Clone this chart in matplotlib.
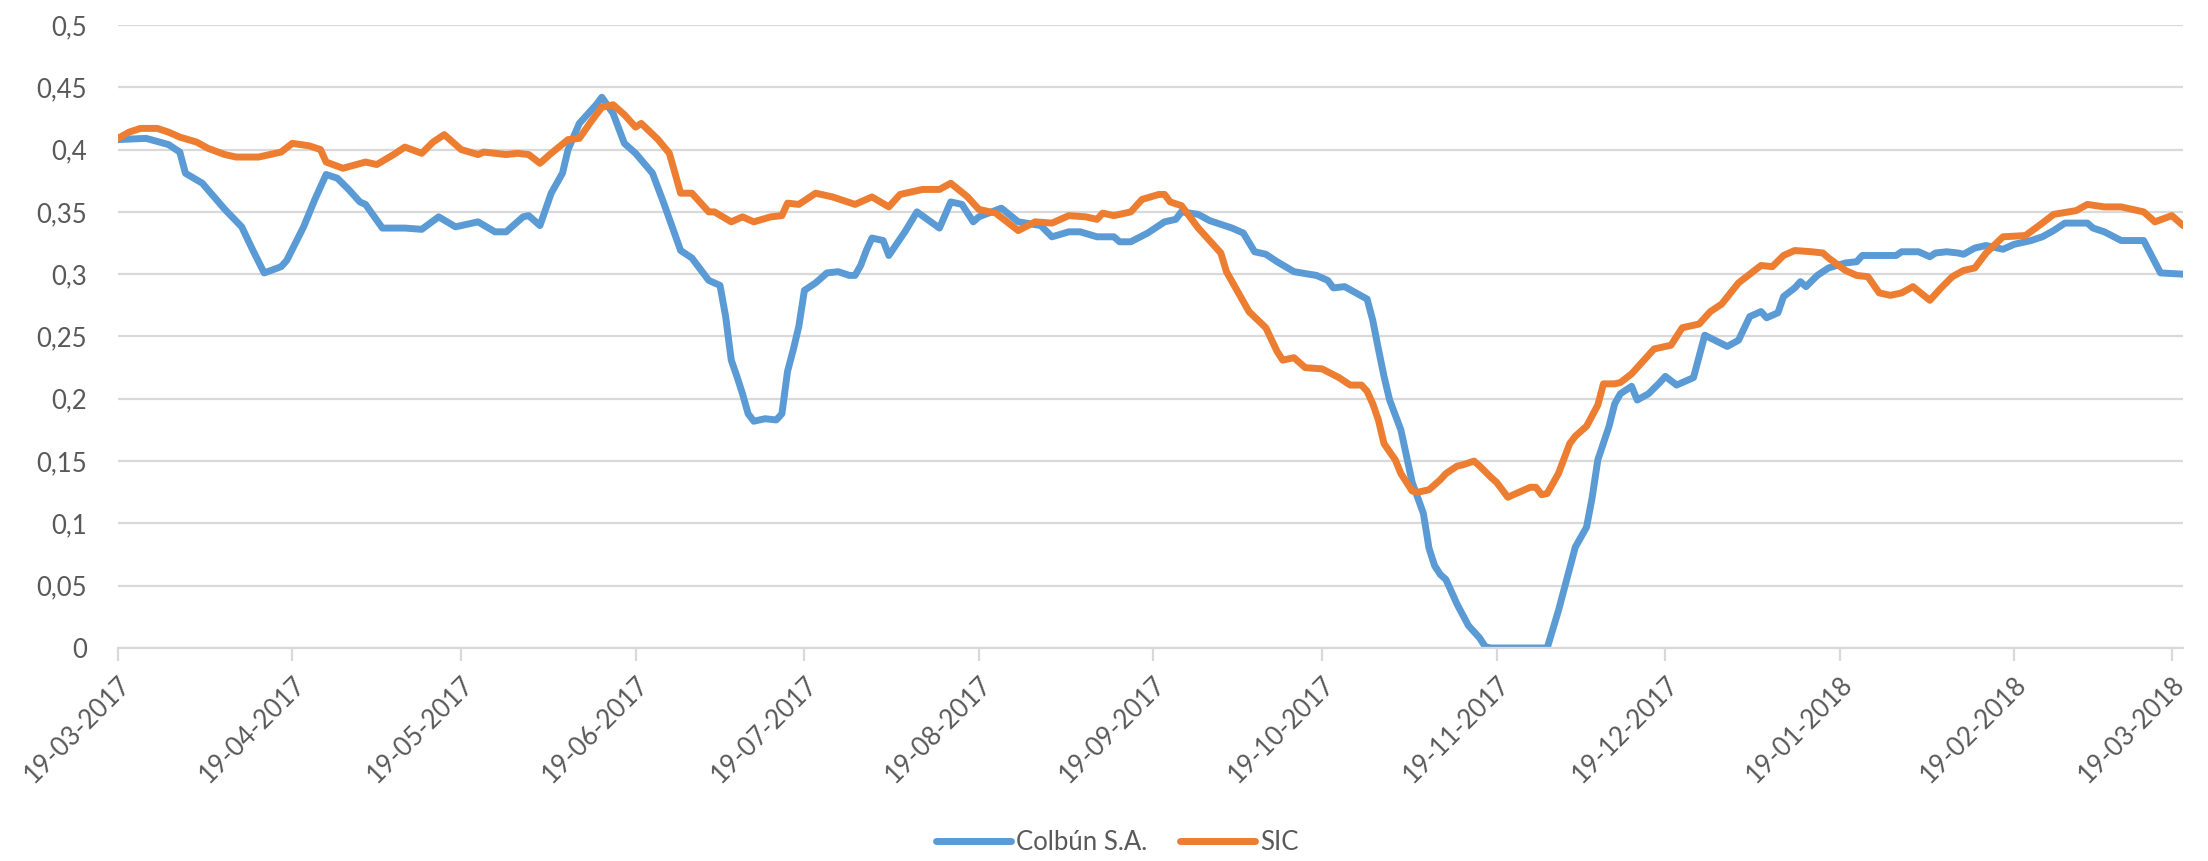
import datetime as dt
import matplotlib
matplotlib.use("Agg")
import matplotlib.pyplot as plt
import matplotlib.dates as mdates

# days counted from 19-03-2017
start = dt.date(2017, 3, 19)

colbun_day = [0, 5, 9, 11, 12, 15, 19, 22, 24, 26, 29, 30, 33, 35, 37, 39, 41, 43, 44, 47,
              51, 54, 57, 60, 64, 67, 69, 72, 73, 75, 77, 79, 80, 82, 85, 86, 88, 90, 92, 95,
              97, 100, 102, 105, 107, 108, 109, 110, 111, 112, 113, 115, 117, 118, 119, 120, 121, 122, 124, 126,
              128, 130, 131, 132, 133, 134, 136, 137, 140, 142, 146, 148, 150, 152, 153, 157, 160, 164, 166, 169,
              171, 174, 177, 178, 180, 183, 186, 188, 189, 192, 194, 198, 200, 202, 204, 206, 209, 213, 215, 216,
              218, 220, 222, 223, 224, 225, 226, 228, 230, 232, 233, 234, 235, 236, 238, 240, 242, 243, 244, 248,
              252, 254, 256, 259, 261, 262, 263, 265, 266, 267, 269, 270, 272, 274, 275, 277, 280, 282, 286, 288,
              290, 292, 293, 295, 296, 298, 299, 300, 302, 304, 307, 309, 310, 316, 317, 320, 322, 323, 325, 327,
              328, 330, 332, 335, 337, 340, 342, 344, 346, 350, 351, 353, 356, 360, 363, 367]
colbun_val = [.408, .409, .404, .398, .381, .373, .352, .338, .319, .301, .306, .311, .338, .360, .380, .377, .368, .358, .356, .337,
              .337, .336, .346, .338, .342, .334, .334, .346, .347, .339, .365, .381, .400, .421, .436, .442, .429, .405, .397, .381,
              .357, .319, .313, .295, .291, .266, .231, .218, .204, .188, .182, .184, .183, .188, .222, .239, .258, .287, .293, .301,
              .302, .299, .299, .307, .319, .329, .327, .315, .335, .350, .337, .358, .356, .342, .346, .353, .342, .339, .330, .334,
              .334, .330, .330, .326, .326, .333, .342, .344, .350, .348, .343, .337, .333, .318, .316, .310, .302, .299, .295, .289,
              .290, .285, .280, .263, .240, .218, .199, .175, .133, .108, .080, .066, .059, .055, .035, .018, .008, .001, 0, 0,
              0, 0, .030, .081, .097, .121, .151, .178, .196, .204, .210, .199, .204, .213, .218, .211, .217, .251, .242, .247,
              .266, .270, .265, .269, .282, .289, .294, .290, .299, .305, .309, .310, .315, .315, .318, .318, .314, .317, .318, .317,
              .316, .321, .323, .320, .324, .327, .330, .335, .341, .341, .337, .334, .327, .327, .301, .300]

sic_day = [0, 2, 4, 7, 9, 11, 14, 16, 19, 21, 25, 27, 29, 31, 34, 36, 37, 40, 44, 46,
           49, 51, 54, 56, 58, 61, 64, 65, 69, 71, 73, 75, 77, 80, 82, 84, 86, 88, 90, 92,
           93, 96, 98, 100, 102, 105, 106, 109, 111, 113, 116, 118, 119, 121, 124, 127, 131, 134, 137, 139,
           141, 143, 146, 148, 151, 153, 156, 160, 163, 166, 169, 172, 174, 175, 177, 180, 182, 185, 186, 187,
           189, 192, 194, 196, 197, 199, 201, 204, 206, 207, 209, 211, 214, 217, 219, 221, 222, 223, 224, 225,
           227, 228, 230, 231, 233, 235, 236, 238, 239, 241, 242, 244, 245, 247, 248, 251, 252, 253, 254, 256,
           258, 259, 261, 263, 264, 266, 267, 269, 272, 273, 276, 278, 281, 283, 285, 288, 292, 294, 296, 298,
           301, 303, 304, 307, 309, 311, 313, 315, 317, 319, 322, 324, 326, 328, 330, 332, 335, 339, 342, 344,
           348, 350, 353, 356, 360, 362, 365, 367]
sic_val = [.409, .414, .417, .417, .414, .410, .406, .401, .396, .394, .394, .396, .398, .405, .403, .400, .390, .385, .390, .388,
           .396, .402, .397, .406, .412, .400, .396, .398, .396, .397, .396, .389, .397, .408, .409, .422, .434, .436, .428, .418,
           .421, .408, .397, .365, .365, .350, .350, .342, .346, .342, .346, .347, .357, .356, .365, .362, .356, .362, .354, .364,
           .366, .368, .368, .373, .362, .352, .349, .335, .342, .341, .347, .346, .344, .349, .347, .350, .360, .364, .364, .358,
           .355, .337, .327, .317, .302, .286, .270, .257, .238, .231, .233, .225, .224, .217, .211, .211, .206, .196, .183, .164,
           .151, .140, .126, .125, .127, .135, .140, .146, .147, .150, .146, .137, .133, .121, .123, .129, .129, .123, .124, .140,
           .164, .170, .178, .195, .212, .212, .213, .220, .235, .240, .243, .257, .260, .270, .276, .293, .307, .306, .315, .319,
           .318, .317, .313, .303, .299, .298, .285, .283, .285, .290, .279, .289, .298, .303, .305, .317, .330, .331, .341, .348,
           .351, .356, .354, .354, .350, .342, .347, .339]

tick_labels = ["19-03-2017", "19-04-2017", "19-05-2017", "19-06-2017", "19-07-2017", "19-08-2017", "19-09-2017",
               "19-10-2017", "19-11-2017", "19-12-2017", "19-01-2018", "19-02-2018", "19-03-2018"]
y_ticks = [0, 0.05, 0.1, 0.15, 0.2, 0.25, 0.3, 0.35, 0.4, 0.45, 0.5]

plt.rcParams['font.family'] = ['Lato', 'DejaVu Sans']

colbun_dates = [start + dt.timedelta(days=d) for d in colbun_day]
sic_dates = [start + dt.timedelta(days=d) for d in sic_day]
tick_dates = [dt.datetime.strptime(t, "%d-%m-%Y").date() for t in tick_labels]

fig = plt.figure(figsize=(22.08, 8.61), dpi=100)
ax = fig.add_axes([0.0534, 0.2474, 0.9353, 0.7236])

grid_c = '#D9D9D9'
text_c = '#595959'

ax.plot(colbun_dates, colbun_val, color='#5B9BD5', lw=5, label='Colbún S.A.',
        solid_joinstyle='round', solid_capstyle='round')
ax.plot(sic_dates, sic_val, color='#ED7D31', lw=5, label='SIC',
        solid_joinstyle='round', solid_capstyle='round')

ax.set_ylim(0, 0.5)
ax.set_xlim(start, start + dt.timedelta(days=367.5))
ax.set_yticks(y_ticks)
ax.set_yticklabels([('%g' % v).replace('.', ',') for v in y_ticks])
ax.set_xticks(mdates.date2num(tick_dates))
ax.set_xticklabels(tick_labels, rotation=45, ha='right', rotation_mode='anchor')

ax.yaxis.grid(True, color=grid_c, lw=1.6)
ax.set_axisbelow(True)
for s in ['left', 'right', 'top']:
  ax.spines[s].set_visible(False)
ax.spines['bottom'].set_color(grid_c)
ax.spines['bottom'].set_linewidth(1.6)

ax.tick_params(axis='y', length=0, pad=22, labelsize=18.5, labelcolor=text_c)
ax.tick_params(axis='x', length=9, width=1.6, color=grid_c, pad=8, labelsize=18.5, labelcolor=text_c)

fig.legend(loc='lower center', bbox_to_anchor=(0.506, -0.02), ncol=2, frameon=False,
           fontsize=18.5, labelcolor=text_c, handlelength=2.9, handletextpad=0.2, columnspacing=1.3)

fig.savefig('out.png', dpi=100)
